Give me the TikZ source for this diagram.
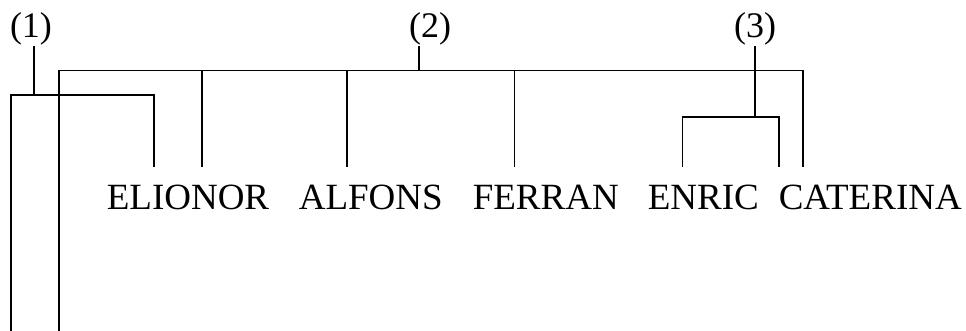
\documentclass[tikz,border=0pt]{standalone}
\usepackage{fontspec}
\setmainfont{Liberation Serif}
\usepackage{tikz}

\begin{document}
\begin{tikzpicture}[x=1pt,y=-1pt,line width=1.6pt,inner sep=0pt,
  person/.style={anchor=base west,font=\fontsize{37}{40}\selectfont},
  grp/.style={anchor=base,font=\fontsize{36}{40}\selectfont}]
\useasboundingbox (0,0) rectangle (966,331);
%Names
\node at (106,210) [person] (Elionor) {ELIONOR};
\node at (298,210) [person] (Alfons) {ALFONS};
\node at (472,210) [person] (Ferran) {FERRAN};
\node at (647,210) [person] (Enric) {ENRIC};
\node at (778,210) [person] (Caterina) {CATERINA};
%Group Labels
\node at (31,38) [grp] (L1) {(1)};
\node at (430,38) [grp] (L2) {(2)};
\node at (755,38) [grp] (L3) {(3)};
%Junctions
\coordinate (j1) at (34,95);
\coordinate (j2) at (418.7,70.7);
\coordinate (j3) at (755,117.3);
%Leg Ends
\coordinate (foot1) at (11,331);
\coordinate (foot2) at (58.7,331);
\coordinate (ElionorLeg) at (154,167);
\coordinate (AlfonsLeg) at (346.7,167);
\coordinate (FerranLeg) at (514.3,167);
\coordinate (EnricLeg) at (682.3,167);
\coordinate (CaterinaLeg) at (779,167);
\coordinate (CaterinaLegB) at (802.7,167);
\coordinate (ElionorLegB) at (202,167);
%Connections
\draw (L1.south -| j1) -- (j1);
\draw (foot1) |- (j1) -| (ElionorLeg);
\draw (L2.south -| j2) -- (j2);
\draw (foot2) |- (j2) -| (CaterinaLegB);
\foreach \leg in {ElionorLegB,AlfonsLeg,FerranLeg}
  \draw (\leg |- j2) -- (\leg);
\draw (L3.south -| j3) -- (j3);
\draw (EnricLeg) |- (j3) -| (CaterinaLeg);
\end{tikzpicture}
\end{document}
